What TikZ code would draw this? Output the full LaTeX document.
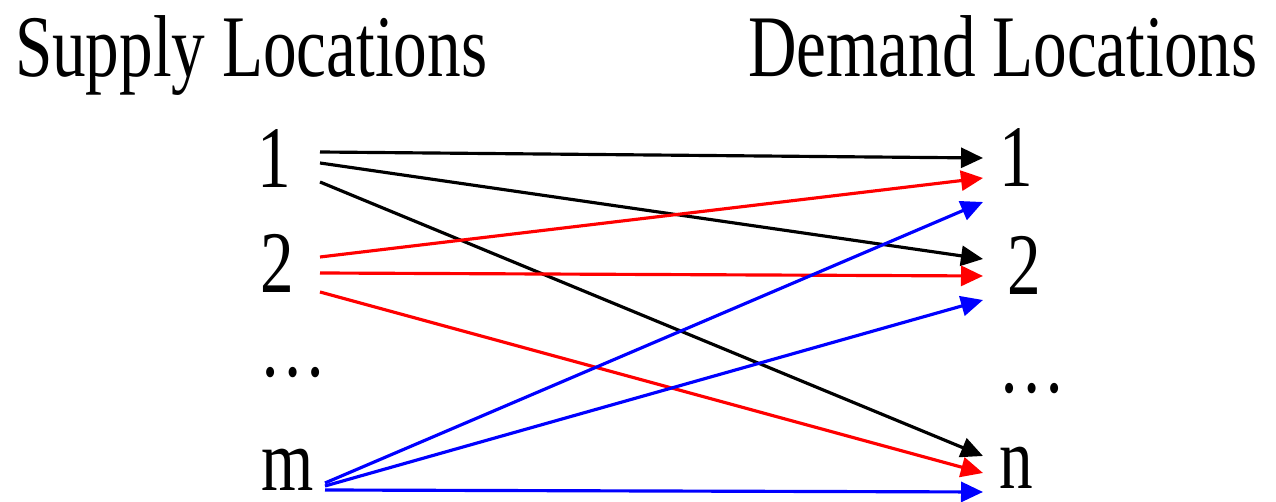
\documentclass[tikz,border=0pt]{standalone}
\usepackage{fontspec}
\usepackage{graphicx}
\setmainfont{Liberation Serif}
\usetikzlibrary{arrows.meta}
\tikzset{
  lbl/.style={inner sep=0pt, outer sep=0pt, font=\fontsize{50}{60}\selectfont},
  conn/.style={line width=1.8pt, -{Triangle[length=0.44cm,width=0.4cm]}},
}
\newcommand{\sq}[1]{\scalebox{0.765}[1]{#1}}
\begin{document}
\begin{tikzpicture}[x=0.02cm,y=-0.02cm]
\useasboundingbox[fill=white] (0,0) rectangle (1276,502);
% titles
\node[lbl, anchor=base west] (tS) at (15,77) {\sq{Supply Locations}};
\node[lbl, anchor=base west] (tD) at (748,77) {\sq{Demand Locations}};
% supply labels
\node[lbl, anchor=base] (s1) at (274,188) {\sq{1}};
\node[lbl, anchor=base] (s2) at (277,293) {\sq{2}};
\node[lbl, anchor=base] (sd) at (293,377) {\sq{…}};
\node[lbl, anchor=base] (sm) at (288,491) {\sq{m}};
% demand labels
\node[lbl, anchor=base] (d1) at (1016,187) {\sq{1}};
\node[lbl, anchor=base] (d2) at (1024,295) {\sq{2}};
\node[lbl, anchor=base] (dd) at (1032,393) {\sq{…}};
\node[lbl, anchor=base] (dn) at (1016,489) {\sq{n}};
% ports
\coordinate (s1a) at (320,152);
\coordinate (s1b) at (320,163);
\coordinate (s1c) at (320,182);
\coordinate (s2a) at (320,257);
\coordinate (s2b) at (320,273);
\coordinate (s2c) at (320,292);
\coordinate (sma) at (325,483);
\coordinate (smb) at (325,486);
\coordinate (smc) at (325,490);
\coordinate (d1a) at (983,158);
\coordinate (d1b) at (983,178);
\coordinate (d1c) at (983,202);
\coordinate (d2a) at (983,259);
\coordinate (d2b) at (983,276);
\coordinate (d2c) at (983,300);
\coordinate (dna) at (983,456);
\coordinate (dnb) at (983,473);
\coordinate (dnc) at (983,492);
% connectors
\draw[conn, black] (s1a) -- (d1a);
\draw[conn, black] (s1b) -- (d2a);
\draw[conn, black] (s1c) -- (dna);
\draw[conn, red] (s2a) -- (d1b);
\draw[conn, red] (s2b) -- (d2b);
\draw[conn, red] (s2c) -- (dnb);
\draw[conn, blue] (sma) -- (d1c);
\draw[conn, blue] (smb) -- (d2c);
\draw[conn, blue] (smc) -- (dnc);
\end{tikzpicture}
\end{document}
